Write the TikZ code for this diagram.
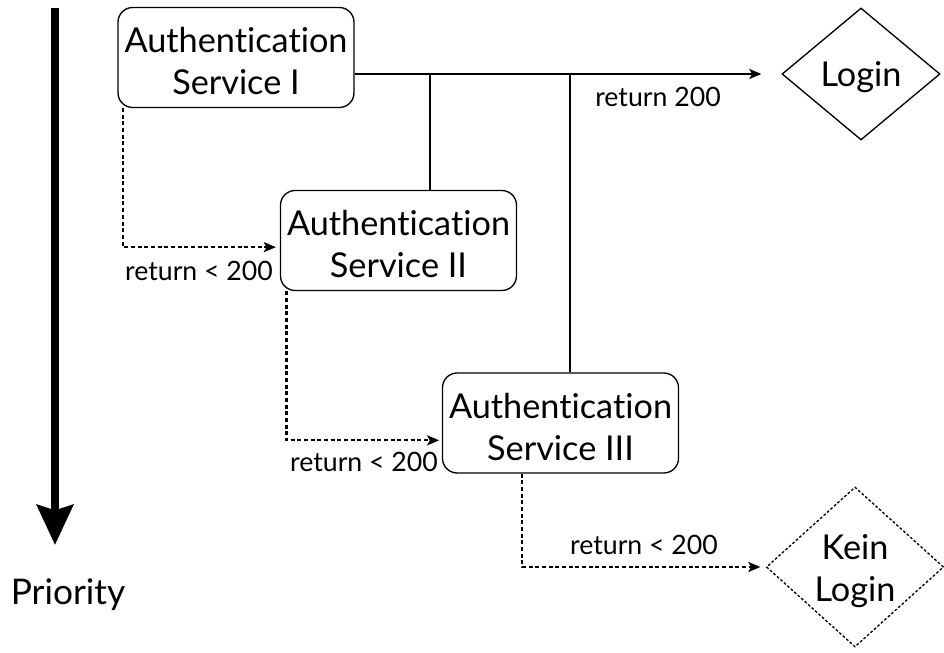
\documentclass[tikz,border=0pt]{standalone}
\usepackage{fontspec}
\setmainfont{Lato}[Ligatures={NoCommon,NoRare,NoContextual}]
\usetikzlibrary{shapes.geometric,arrows.meta}
\begin{document}
\begin{tikzpicture}[x=0.75pt,y=-0.75pt,
  svc/.style={draw, line width=1pt, rounded corners=11pt, minimum width=177pt,
    minimum height=75pt, inner sep=0pt},
  txt/.style={align=center, inner sep=0pt, font=\fontsize{25.7}{31.5}\selectfont},
  dec/.style={draw, diamond, line width=1pt, inner sep=0pt},
  lbl/.style={font=\fontsize{20}{23}\selectfont, inner sep=0pt},
  sol/.style={line width=1.5pt},
  dsh/.style={line width=1.6pt, dash pattern=on 3pt off 2pt},
  tip/.style={-{Stealth[length=9pt,width=7.5pt,inset=2pt]}}
]
\useasboundingbox (0,0) rectangle (944,652);

% priority arrow
\coordinate (pa) at (55,8);
\coordinate (pb) at (55,545);
\draw[line width=6pt, -{Stealth[length=30pt,width=27pt,inset=4pt]}] (pa) -- (pb);
\node[font=\fontsize{26.5}{30}\selectfont] (prio) at (68,595) {Priority};

% services
\node[svc] (b1) at (236,57.5) {};
\node[txt] (t1) at ([yshift=-3pt]b1.center) {Authentication\\Service I};
\node[svc] (b2) at (398.5,240.5) {};
\node[txt] (t2t) at ([yshift=-3pt]b2.center) {Authentication\\Service II};
\node[svc] (b3) at (560.5,423) {};
\node[txt] (t3t) at ([yshift=-3pt]b3.center) {Authentication\\Service III};

% outcomes
\node[dec, minimum width=118.5pt, minimum height=99pt] (login) at (861,74) {};
\node[txt] (lt) at ([yshift=-2pt]login.center) {Login};
\node[dec, dash pattern=on 2pt off 1.5pt, aspect=1.1, minimum width=133pt, minimum height=120pt] (kein) at (855,567) {};
\node[txt] (kt) at ([yshift=-3pt]kein.center) {Kein\\Login};

% success paths
\draw[sol, tip, shorten >=15pt] (b1.east |- login.west) -- (login.west);
\coordinate (t2) at (430,74);
\coordinate (t3) at (570,74);
\draw[sol] (t2) -- (t2 |- b2.north);
\draw[sol] (t3) -- (t3 |- b3.north);
\node[lbl] (l0) at (658,97) {return 200};

% fallback paths
\draw[dsh, tip, shorten >=3pt] ([xshift=4.5pt]b1.south west) |- ([yshift=-5pt]b2.west);
\node[lbl] (l1) at (199,271) {return < 200};
\draw[dsh, tip, shorten >=2pt] ([xshift=5pt]b2.south west) |- ([yshift=-13pt]b3.west);
\node[lbl] (l2) at (364,462) {return < 200};
\draw[dsh, tip, shorten >=4pt] ([xshift=-29pt]b3.south) |- (kein.west);
\node[lbl] (l3) at (644,545) {return < 200};
\end{tikzpicture}
\end{document}
